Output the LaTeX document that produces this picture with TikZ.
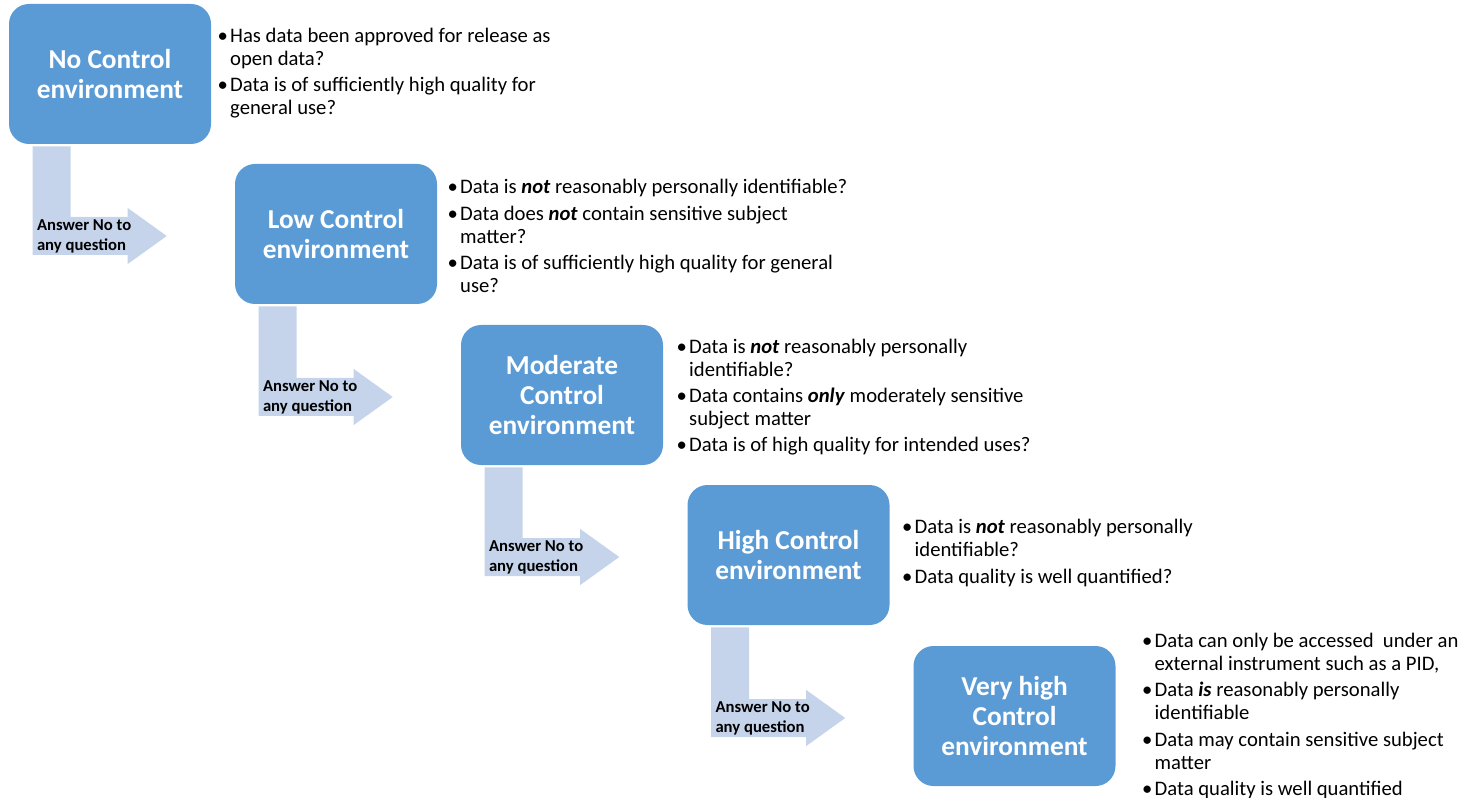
\documentclass[tikz,border=0pt]{standalone}
\usepackage{fontspec}
\setmainfont{Carlito}
\usepackage{tikz}
\usetikzlibrary{calc}

\definecolor{boxblue}{RGB}{91,155,213}
\definecolor{arrowblue}{RGB}{197,212,235}

\newcommand{\bl}{\makebox[9.5pt][l]{\textbullet}}
\newcommand{\ind}{\hspace*{9.5pt}}
\newcommand{\bi}[1]{\textbf{\textit{#1}}}

% bent arrow from box #1 down and across to box #2
\newcommand{\steparrow}[2]{%
	\fill[arrowblue] ($(#1.south west)+(24,2)$) -- ($(#1.south west)+(62,2)$) |- ($(#2.west)+(-107,-17)$)
		-- ($(#2.west)+(-107,-26)$) -- ($(#2.west)+(-68,2)$) -- ($(#2.west)+(-107,30)$)
		-- ($(#2.west)+(-107,21)$) -| cycle;
	\coordinate (#1-lx) at ($(#1.south west)+(28,0)$);
	\coordinate (#2-ly) at ($(#2.west)+(0,2)$);
	\node[answer] (#1-ans) at (#1-lx |- #2-ly) {Answer No to\\any question};
}

\begin{document}
\begin{tikzpicture}[x=0.75pt, y=-0.75pt,
	envbox/.style={fill=boxblue, rounded corners=15pt, minimum width=151.5pt, minimum height=105pt,
		text=white, align=center, font=\bfseries\fontsize{20.5}{22.5}\selectfont},
	answer/.style={anchor=west, align=left, inner sep=0pt, font=\bfseries\fontsize{12.5}{15}\selectfont},
	questions/.style={anchor=west, align=left, inner sep=0pt, font=\fontsize{15.5}{17.25}\selectfont}]
	\useasboundingbox (0,0) rectangle (1460,798);

	\node[envbox] (none) at (110,74) {No Control\\environment};
	\node[envbox] (low) at (336,234) {Low Control\\environment};
	\node[envbox] (moderate) at (562,395) {Moderate\\Control\\environment};
	\node[envbox] (high) at (788.5,555) {High Control\\environment};
	\node[envbox] (veryhigh) at (1014.5,716) {Very high\\Control\\environment};

	\steparrow{none}{low}
	\steparrow{low}{moderate}
	\steparrow{moderate}{high}
	\steparrow{high}{veryhigh}

	% questions beside each box
	\node[questions] (none-q) at ($(none.east)+(6,-1)$)
		{\bl Has data been approved for release as\\ \ind open data?\\[2.5pt]
		 \bl Data is of sufficiently high quality for\\ \ind general use?};
	\node[questions] (low-q) at ($(low.east)+(10,2)$)
		{\bl Data is \bi{not} reasonably personally identifiable?\\[2.5pt]
		 \bl Data does \bi{not} contain sensitive subject\\ \ind matter?\\[2.5pt]
		 \bl Data is of sufficiently high quality for general\\ \ind use?};
	\node[questions] (moderate-q) at ($(moderate.east)+(13,2)$)
		{\bl Data is \bi{not} reasonably personally\\ \ind identifiable?\\[2.5pt]
		 \bl Data contains \bi{only} moderately sensitive\\ \ind subject matter\\[2.5pt]
		 \bl Data is of high quality for intended uses?};
	\node[questions] (high-q) at ($(high.east)+(12,-2)$)
		{\bl Data is \bi{not} reasonably personally\\ \ind identifiable?\\[2.5pt]
		 \bl Data quality is well quantified?};
	\node[questions] (veryhigh-q) at ($(veryhigh.east)+(26,0)$)
		{\bl Data can only be accessed\ \ under an\\ \ind external instrument such as a PID,\\[2.5pt]
		 \bl Data \bi{is} reasonably personally\\ \ind identifiable\\[2.5pt]
		 \bl Data may contain sensitive subject\\ \ind matter\\[2.5pt]
		 \bl Data quality is well quantified};
\end{tikzpicture}
\end{document}
